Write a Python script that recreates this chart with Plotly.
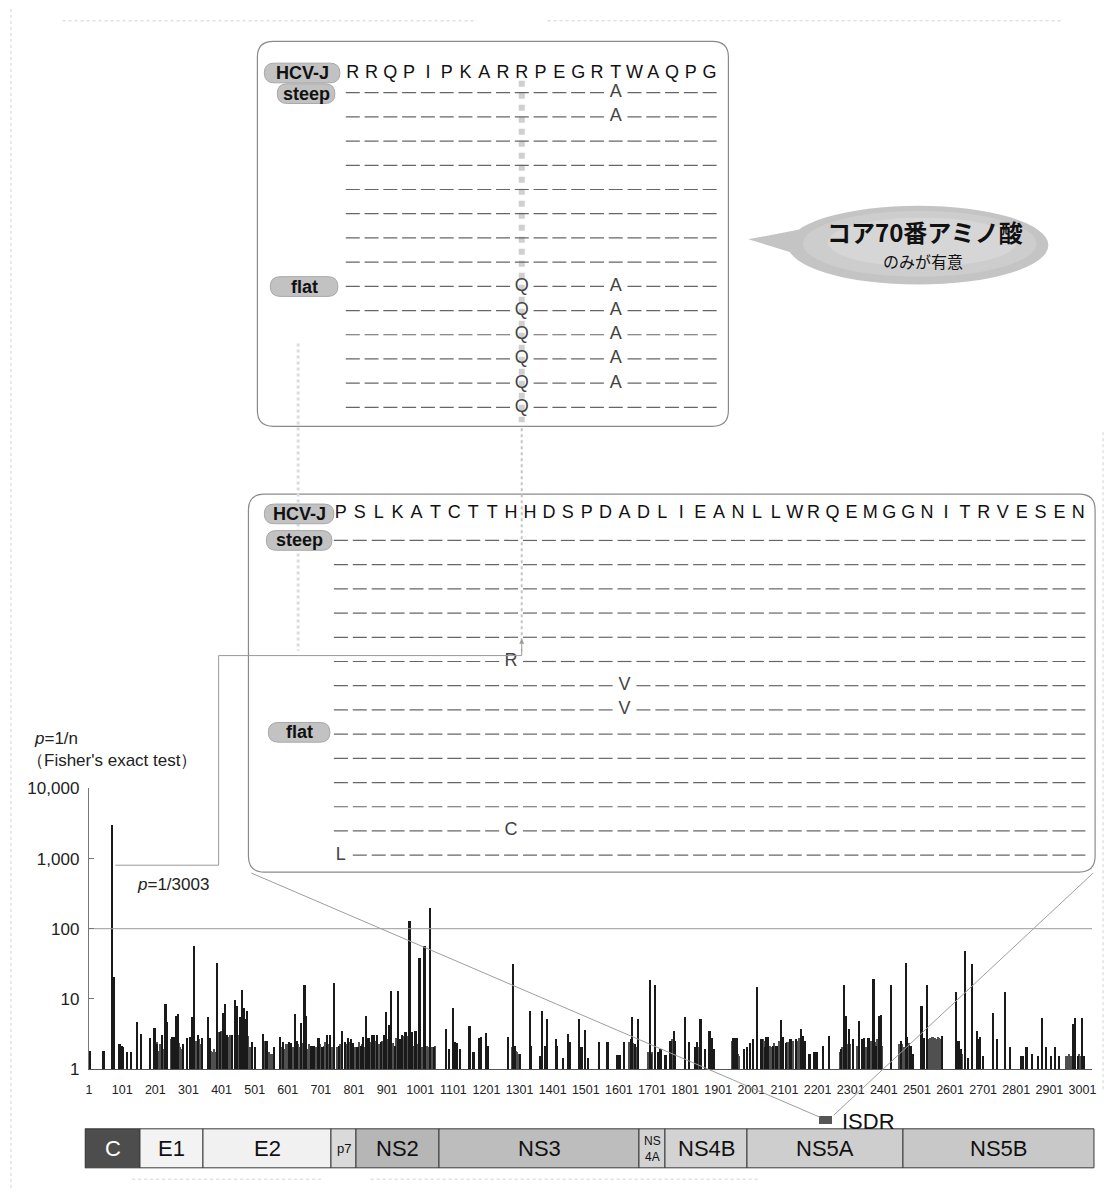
import plotly.graph_objects as go

W, H = 1113, 1199


def X(px):
    return px / W


def Y(py):
    return 1 - py / H


# ---------------- data ----------------
# dark (prominent) bars: amino-acid position and 1/p value
peak_pos = [3, 44, 70, 75, 92, 98, 103, 114, 126, 146, 158, 184, 198, 206, 220, 231, 236, 252, 259, 264,
            269, 284, 296, 306, 311, 317, 330, 340, 359, 366, 387, 395, 406, 411, 416, 432, 440, 446, 456,
            463, 468, 473, 478, 491, 501, 526, 536, 558, 576, 586, 603, 611, 621, 628, 641, 651, 656, 671,
            678, 693, 705, 718, 728, 741, 756, 764, 772, 781, 791, 798, 811, 821, 828, 836, 844, 854, 861,
            869, 881, 891, 896, 906, 913, 924, 933, 938, 946, 956, 968, 976, 986, 998, 1013, 1031, 1041,
            1079, 1086, 1099, 1106, 1111, 1121, 1149, 1161, 1179, 1184, 1199, 1204, 1266, 1281, 1286, 1301,
            1331, 1336, 1361, 1369, 1376, 1384, 1409, 1414, 1431, 1446, 1451, 1479, 1484, 1489, 1499, 1506,
            1539, 1566, 1596, 1603, 1616, 1636, 1641, 1648, 1658, 1693, 1698, 1709, 1719, 1726, 1741, 1756,
            1766, 1769, 1801, 1811, 1829, 1836, 1846, 1849, 1861, 1874, 1881, 1887, 1946, 1951, 1956, 1979,
            1986, 1996, 2006, 2018, 2031, 2041, 2046, 2051, 2066, 2076, 2089, 2096, 2106, 2116, 2121, 2136,
            2151, 2156, 2162, 2176, 2191, 2198, 2216, 2234, 2270, 2281, 2286, 2296, 2306, 2326, 2336, 2341,
            2354, 2369, 2376, 2386, 2391, 2421, 2451, 2466, 2471, 2481, 2488, 2514, 2521, 2531, 2576, 2618,
            2626, 2634, 2646, 2654, 2666, 2681, 2686, 2691, 2701, 2729, 2743, 2766, 2781, 2814, 2819, 2831,
            2848, 2866, 2879, 2891, 2904, 2916, 2929, 2971, 2978, 2986, 2999, 3006]
peak_val = [1.8, 1.8, 3003, 20, 2.2, 2.1, 2.0, 1.7, 1.7, 4.6, 3.1, 2.7, 3.8, 2.2, 3.0, 8.2, 4.6, 2.8, 2.8, 5.6,
            6.0, 2.2, 2.7, 2.8, 5.5, 56, 3.0, 2.7, 5.5, 2.7, 32, 3.3, 6.1, 8.3, 3.0, 3.0, 9.4, 7.8, 5.4,
            13.1, 7.4, 5.1, 6.6, 2.4, 2.0, 3.1, 2.5, 2.0, 2.8, 2.4, 2.4, 2.3, 6.0, 2.5, 4.5, 15.7, 5.6, 2.1,
            2.1, 2.7, 2.0, 3.0, 3.0, 16.6, 2.1, 3.4, 2.4, 2.7, 2.6, 2.3, 2.0, 2.1, 2.8, 5.6, 2.7, 3.0, 3.0,
            3.0, 2.4, 3.0, 6.4, 4.2, 12.7, 2.1, 12.7, 2.6, 3.0, 3.3, 125, 3.3, 3.4, 38, 55, 195, 2.0,
            3.6, 1.9, 7.4, 2.4, 2.3, 1.9, 4.0, 1.7, 2.7, 2.8, 3.2, 2.1, 2.8, 31, 2.1, 1.6,
            6.6, 2.1, 1.5, 6.6, 2.1, 5.1, 2.6, 2.1, 1.4, 3.1, 2.4, 5.1, 2.0, 2.0, 3.5, 1.4,
            2.4, 2.4, 1.55, 1.55, 2.4, 2.6, 5.4, 2.2, 5.1, 18.1, 1.6, 15.4, 1.7, 1.9, 1.55, 2.5,
            3.4, 2.5, 5.4, 2.4, 2.0, 2.4, 5.1, 5.1, 1.9, 3.4, 2.7, 1.9, 2.7, 2.7, 2.7, 1.9,
            2.0, 2.3, 2.6, 14.4, 2.6, 2.0, 2.8, 2.8, 2.1, 2.1, 4.9, 2.8, 2.3, 2.6, 2.6, 2.6,
            3.7, 2.9, 2.5, 1.6, 1.7, 1.7, 2.1, 2.9, 1.9, 15.5, 5.6, 3.6, 2.6, 4.8, 2.6, 2.7,
            2.7, 18.7, 2.1, 5.6, 5.7, 15.5, 2.5, 32, 2.8, 2.1, 1.6, 7.9, 2.7, 15.5, 2.9, 12.5,
            2.5, 1.9, 48, 1.4, 31, 3.4, 2.6, 2.8, 1.5, 6.2, 2.6, 12.2, 2.0, 1.5, 1.5, 2.0,
            1.6, 1.5, 5.3, 2.0, 1.5, 2.0, 1.5, 4.3, 5.3, 1.5, 5.3, 1.5]

# dense low-level bars (halftone clusters)
bg_pos = [206, 210, 214, 218, 222, 226, 250, 254, 258, 262, 272, 276, 280, 320, 324, 333, 337, 370, 374, 378,
          382, 391, 395, 399, 403, 420, 424, 428, 450, 454, 458, 462, 466, 470, 474, 482, 488, 494, 530, 541,
          545, 549, 553, 580, 590, 597, 606, 616, 632, 636, 646, 660, 665, 686, 697, 710, 714, 722, 733, 750,
          760, 776, 786, 803, 815, 825, 832, 849, 858, 865, 875, 886, 900, 918, 928, 942, 951, 961, 978, 982,
          990, 1003, 1008, 1018, 1022, 1026, 1036, 1046, 1278, 1283, 1290, 1294, 1298, 1632, 1638, 1644, 1652,
          1690, 1696, 1702, 1758, 1762, 1843, 1872, 1878, 1942, 1948, 1954, 1960, 1964, 2036, 2040, 2044, 2048,
          2058, 2062, 2070, 2080, 2084, 2092, 2110, 2126, 2142, 2146, 2150, 2158, 2164, 2268, 2272, 2276, 2282,
          2290, 2300, 2320, 2346, 2358, 2362, 2366, 2374, 2380, 2384, 2394, 2448, 2456, 2462, 2476, 2484, 2536,
          2540, 2544, 2548, 2552, 2556, 2560, 2564, 2568, 2572, 2622, 2630, 2638, 2690, 2950, 2955, 2960, 2965,
          2990, 2994, 3003]
bg_val = [2.4, 1.8, 2.2, 2.0, 2.4, 1.9, 2.6, 2.2, 2.5, 2.0, 2.3, 2.0, 1.9, 2.2, 2.5, 2.6, 2.2, 1.8, 1.7, 1.9,
          1.7, 3.3, 3.0, 3.4, 3.2, 2.8, 2.6, 3.0, 3.0, 2.7, 3.2, 2.9, 2.8, 3.1, 2.6, 2.9, 2.0, 2.3, 2.5, 1.6,
          1.7, 1.6, 1.6, 2.0, 1.9, 2.2, 1.9, 2.0, 2.2, 2.0, 2.3, 1.9, 2.2, 2.0, 2.2, 2.1, 2.4, 2.2, 2.0, 2.0,
          2.2, 2.2, 2.4, 2.0, 2.4, 2.2, 2.0, 2.4, 2.6, 2.5, 2.2, 2.5, 2.6, 2.3, 2.7, 2.6, 2.9, 2.9, 2.0, 2.1,
          2.2, 2.0, 2.0, 2.0, 2.1, 2.0, 2.0, 2.1, 2.0, 1.9, 1.8, 1.7, 1.6, 2.4, 2.6, 2.3, 2.0,
          1.7, 1.6, 1.7, 2.3, 2.6, 2.0, 2.2, 2.0, 2.5, 2.4, 2.6, 1.6, 1.5, 2.6, 2.5, 2.7, 2.3,
          2.1, 2.0, 2.3, 2.0, 2.5, 2.3, 2.4, 2.5, 2.5, 2.7, 2.8, 2.6, 2.4, 1.7, 1.8, 2.0, 2.4,
          2.2, 2.2, 2.1, 2.0, 2.3, 2.5, 2.3, 2.4, 2.6, 2.2, 2.1, 2.2, 2.2, 2.0, 2.3, 1.9, 2.6,
          2.7, 2.6, 2.8, 2.6, 2.7, 2.6, 2.8, 2.7, 2.6, 2.0, 1.7, 1.6, 2.2, 1.5, 1.5, 1.6, 1.5,
          1.6, 1.5, 1.5]

threshold = 100
x_ticks = [1, 101, 201, 301, 401, 501, 601, 701, 801, 901, 1001, 1101, 1201, 1301, 1401, 1501,
           1601, 1701, 1801, 1901, 2001, 2101, 2201, 2301, 2401, 2501, 2601, 2701, 2801, 2901, 3001]
y_ticks = [1, 10, 100, 1000, 10000]
y_ticktext = ["1", "10", "100", "1,000", "10,000"]

# genome map (as drawn, in axis units)
genome_labels = ["C", "E1", "E2", "p7", "NS2", "NS3", "NS<br>4A", "NS4B", "NS5A", "NS5B"]
genome_start = [0, 165, 357, 744, 819, 1068, 1672, 1753, 1999, 2470]
genome_end = [165, 357, 744, 819, 1068, 1672, 1753, 1999, 2470, 3046]
genome_color = ["#4d4d4d", "#f3f3f3", "#f1f1f1", "#dadada", "#b6b6b6", "#bdbdbd", "#d2d2d2",
                "#d3d3d3", "#cecece", "#c8c8c8"]
genome_font = [22, 22, 22, 13, 22, 22, 12, 22, 22, 22]
isdr_start, isdr_end = 2218, 2257

# alignments
core_seq = "RRQPIPKARRPEGRTWAQPG"
core_groups = ["steep"] * 8 + ["flat"] * 6
core_subs = [(0, 14, "A"), (1, 14, "A"), (8, 9, "Q"), (8, 14, "A"), (9, 9, "Q"), (9, 14, "A"),
             (10, 9, "Q"), (10, 14, "A"), (11, 9, "Q"), (11, 14, "A"), (12, 9, "Q"), (12, 14, "A"),
             (13, 9, "Q")]
isdr_seq = "PSLKATCTTHHDSPDADLIEANLLWRQEMGGNITRVESEN"
isdr_groups = ["steep"] * 8 + ["flat"] * 6
isdr_subs = [(5, 9, "R"), (6, 15, "V"), (7, 15, "V"), (12, 9, "C"), (13, 0, "L")]

FONT = "Liberation Sans, Arial, sans-serif"
JP = "Noto Sans CJK JP, sans-serif"

fig = go.Figure()

# ---------------- bar chart ----------------
fig.add_trace(go.Scatter(x=[0, 3030], y=[threshold, threshold], mode="lines",
                         line=dict(color="#9a9a9a", width=1), xaxis="x", yaxis="y", hoverinfo="skip"))
fig.add_trace(go.Bar(x=bg_pos, y=bg_val, width=5, marker=dict(color="#505050", line=dict(width=0)),
                     xaxis="x", yaxis="y"))
fig.add_trace(go.Bar(x=peak_pos, y=peak_val, width=6.5, marker=dict(color="#1a1a1a", line=dict(width=0)),
                     xaxis="x", yaxis="y"))

# ---------------- genome map ----------------
fig.add_trace(go.Bar(y=[42] * len(genome_labels), x=[e - s for s, e in zip(genome_start, genome_end)],
                     base=genome_start, orientation="h", width=40,
                     marker=dict(color=genome_color, line=dict(color="#3a3a3a", width=1)),
                     textposition="none", xaxis="x4", yaxis="y4"))
fig.add_trace(go.Bar(y=[13], x=[isdr_end - isdr_start], base=[isdr_start], orientation="h", width=8,
                     marker=dict(color="#555555", line=dict(width=0)), xaxis="x4", yaxis="y4"))


# ---------------- alignments ----------------
def alignment(seq, nrows, subs, header_y, xa, ya, sub_size):
    subd = {(r, c): a for r, c, a in subs}
    dx, dy = [], []
    for r in range(nrows):
        for c in range(len(seq)):
            if (r, c) not in subd:
                dx.append(c)
                dy.append(r)
    fig.add_trace(go.Scatter(x=dx, y=dy, mode="markers", xaxis=xa, yaxis=ya,
                             marker=dict(symbol="line-ew", size=10, color="#666",
                                         line=dict(color="#666", width=1.2))))
    fig.add_trace(go.Scatter(x=list(range(len(seq))), y=[header_y] * len(seq), mode="text",
                             text=list(seq), xaxis=xa, yaxis=ya,
                             textfont=dict(family=FONT, size=18, color="#111")))
    fig.add_trace(go.Scatter(x=[c for r, c, a in subs], y=[r for r, c, a in subs], mode="text",
                             text=[a for r, c, a in subs], xaxis=xa, yaxis=ya,
                             textfont=dict(family=FONT, size=sub_size, color="#444")))


shapes = []
annotations = []


def rrect(x0, y0, x1, y1, r):
    p = [("M", x0 + r, y0), ("L", x1 - r, y0), ("Q", x1, y0, x1, y0 + r), ("L", x1, y1 - r),
         ("Q", x1, y1, x1 - r, y1), ("L", x0 + r, y1), ("Q", x0, y1, x0, y1 - r), ("L", x0, y0 + r),
         ("Q", x0, y0, x0 + r, y0)]
    out = []
    for seg in p:
        cmd = seg[0]
        coords = seg[1:]
        pts = []
        for i in range(0, len(coords), 2):
            pts.append("%.5f,%.5f" % (X(coords[i]), Y(coords[i + 1])))
        out.append(cmd + " ".join(pts))
    return " ".join(out) + " Z"


# faint scan borders
for (x0, y0, x1, y1) in [(60, 12, 477, 12), (548, 12, 1065, 12), (8, 0, 8, 1199), (130, 1189, 320, 1189),
                         (370, 1189, 760, 1189), (1107, 430, 1107, 1100)]:
    shapes.append(dict(type="line", xref="paper", yref="paper", x0=X(x0), y0=Y(y0), x1=X(x1), y1=Y(y1),
                       line=dict(color="#d2d2d2", width=1, dash="dot"), layer="below"))

# boxes
shapes.append(dict(type="path", xref="paper", yref="paper", path=rrect(256, 33, 730, 424, 16),
                   line=dict(color="#8a8a8a", width=1.2), fillcolor="white", layer="below"))
shapes.append(dict(type="path", xref="paper", yref="paper", path=rrect(247, 493, 1099, 877, 16),
                   line=dict(color="#8a8a8a", width=1.2), fillcolor="white", layer="below"))

# stippled column at core position 70
shapes.append(dict(type="line", xref="paper", yref="paper", x0=X(522), y0=Y(73), x1=X(522), y1=Y(420),
                   line=dict(color="#cfcfcf", width=6, dash="dot"), layer="below"))
shapes.append(dict(type="line", xref="paper", yref="paper", x0=X(522), y0=Y(426), x1=X(522), y1=Y(642),
                   line=dict(color="#c4c4c4", width=2, dash="dot"), layer="below"))
shapes.append(dict(type="line", xref="paper", yref="paper", x0=X(297), y0=Y(340), x1=X(297), y1=Y(652),
                   line=dict(color="#dcdcdc", width=3, dash="dot"), layer="below"))

# pills
pills = [(301, 65, 76, 20, "HCV-J"), (305, 86, 58, 20, core_groups[0]), (303, 282, 68, 20, core_groups[8]),
         (298, 513, 70, 20, "HCV-J"), (298, 540, 66, 20, isdr_groups[0]), (298, 735, 62, 20, isdr_groups[8])]
for cx, cy, w, h, t in pills:
    shapes.append(dict(type="path", xref="paper", yref="paper",
                       path=rrect(cx - w / 2, cy - h / 2, cx + w / 2, cy + h / 2, h / 2),
                       line=dict(color="#a8a8a8", width=1), fillcolor="#c2c2c2", layer="below"))
    annotations.append(dict(x=X(cx), y=Y(cy), xref="paper", yref="paper", text="<b>%s</b>" % t,
                            showarrow=False, font=dict(family=FONT, size=18, color="#111"),
                            xanchor="center", yanchor="middle"))

# speech bubble
shapes.append(dict(type="path", xref="paper", yref="paper",
                   path="M%.5f,%.5f L%.5f,%.5f L%.5f,%.5f Z" % (X(750), Y(234), X(812), Y(222), X(808), Y(252)),
                   line=dict(width=0), fillcolor="#c4c4c4", layer="below"))
for (x0, y0, x1, y1, c) in [(790, 200, 1052, 280, "#c4c4c4"), (805, 205, 1040, 272, "#cdcdcd"),
                            (830, 212, 1020, 262, "#d6d6d6")]:
    shapes.append(dict(type="circle", xref="paper", yref="paper", x0=X(x0), y0=Y(y0), x1=X(x1), y1=Y(y1),
                       line=dict(width=0), fillcolor=c, layer="below"))
annotations.append(dict(x=X(928), y=Y(226), xref="paper", yref="paper", text="<b>コア70番アミノ酸</b>",
                        showarrow=False, xanchor="center", yanchor="middle",
                        font=dict(family=JP, size=24, color="#111")))
annotations.append(dict(x=X(926), y=Y(256), xref="paper", yref="paper", text="のみが有意",
                        showarrow=False, xanchor="center", yanchor="middle",
                        font=dict(family=JP, size=16, color="#111")))

# connector from core peak to upper box
shapes.append(dict(type="path", xref="paper", yref="paper",
                   path="M%.5f,%.5f L%.5f,%.5f L%.5f,%.5f L%.5f,%.5f L%.5f,%.5f" % (
                       X(113), Y(870), X(217), Y(870), X(217), Y(657), X(522), Y(657), X(522), Y(650)),
                   line=dict(color="#9a9a9a", width=1)))
annotations.append(dict(x=X(522), y=Y(640), xref="paper", yref="paper", ax=0, ay=14, text="",
                        showarrow=True, arrowhead=2, arrowsize=1, arrowwidth=1, arrowcolor="#9a9a9a"))

# lines from lower box to ISDR
shapes.append(dict(type="line", xref="paper", yref="paper", x0=X(250), y0=Y(878), x1=X(822), y1=Y(1126),
                   line=dict(color="#9e9e9e", width=1)))
shapes.append(dict(type="line", xref="paper", yref="paper", x0=X(1097), y0=Y(878), x1=X(836), y1=Y(1124),
                   line=dict(color="#9e9e9e", width=1)))

alignment(core_seq, len(core_groups), core_subs, -0.8, "x2", "y2", 18)
alignment(isdr_seq, len(isdr_groups), isdr_subs, -1.1, "x3", "y3", 18)

# genome labels
for s, e, lab, fs, c in zip(genome_start, genome_end, genome_labels, genome_font, genome_color):
    annotations.append(dict(x=(s + e) / 2, y=42, xref="x4", yref="y4", text=lab, showarrow=False,
                            font=dict(family=FONT, size=fs, color="white" if c == "#4d4d4d" else "#111"),
                            xanchor="center", yanchor="middle"))
annotations.append(dict(x=X(842), y=Y(1130), xref="paper", yref="paper", text="ISDR", showarrow=False,
                        xanchor="left", yanchor="middle", font=dict(family=FONT, size=22, color="#111")))

# chart texts
annotations.append(dict(x=X(29), y=Y(741), xref="paper", yref="paper", text="<i>p</i>=1/n", showarrow=False,
                        xanchor="left", yanchor="middle", font=dict(family=FONT, size=17, color="#222")))
annotations.append(dict(x=X(22), y=Y(764), xref="paper", yref="paper", text="（Fisher's exact test）",
                        showarrow=False, xanchor="left", yanchor="middle",
                        font=dict(family=FONT, size=17, color="#222")))
annotations.append(dict(x=X(133), y=Y(890), xref="paper", yref="paper", text="<i>p</i>=1/3003",
                        showarrow=False, xanchor="left", yanchor="middle",
                        font=dict(family=FONT, size=17, color="#222")))

fig.update_layout(
    width=W, height=H, margin=dict(l=0, r=0, t=0, b=0), autosize=False,
    paper_bgcolor="white", plot_bgcolor="rgba(0,0,0,0)", showlegend=False, barmode="overlay", bargap=0,
    font=dict(family=FONT, color="#222"),
    shapes=shapes, annotations=annotations,
    xaxis=dict(domain=[X(86.3), X(1096)], range=[0, 3030], tickvals=x_ticks, ticktext=[str(t) for t in x_ticks],
               ticks="", showline=True, linecolor="#555", linewidth=1, showgrid=False, zeroline=False,
               tickfont=dict(family=FONT, size=12.5, color="#222"), ticklabelstandoff=9, anchor="y"),
    yaxis=dict(type="log", domain=[Y(1077), Y(792)], range=[0, 4], tickvals=y_ticks, ticktext=y_ticktext,
               ticks="inside", ticklen=5, tickcolor="#777", showline=True, linecolor="#777", linewidth=1,
               showgrid=False, zeroline=False, tickfont=dict(family=FONT, size=17, color="#222"),
               ticklabelstandoff=5, anchor="x"),
    xaxis2=dict(domain=[X(342.55), X(720.55)], range=[-0.5, 19.5], visible=False, anchor="y2"),
    yaxis2=dict(domain=[Y(441.7), Y(35.8)], range=[14.5, -2], visible=False, anchor="x2"),
    xaxis3=dict(domain=[X(330.5), X(1091.7)], range=[-0.5, 39.5], visible=False, anchor="y3"),
    yaxis3=dict(domain=[Y(896.7), Y(490.8)], range=[14.5, -2], visible=False, anchor="x3"),
    xaxis4=dict(domain=[X(82), X(1099)], range=[-3, 3049], visible=False, anchor="y4"),
    yaxis4=dict(domain=[Y(1184), Y(1116)], range=[68, 0], visible=False, anchor="x4"),
)

fig.write_html("out.html", config={"displayModeBar": False},
               post_script="document.body.style.margin='0';document.body.style.overflow='hidden';")
